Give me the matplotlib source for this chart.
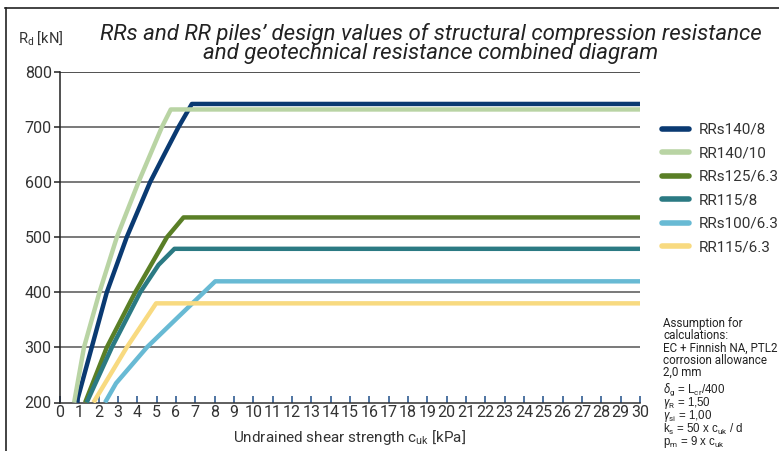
import matplotlib.pyplot as plt
from matplotlib.lines import Line2D

plt.rcParams['font.family'] = ['Roboto', 'DejaVu Sans']
plt.rcParams['mathtext.fontset'] = 'custom'
plt.rcParams['mathtext.rm'] = 'Roboto'
plt.rcParams['mathtext.it'] = 'Roboto:italic'

# data: c_uk [kPa] -> R_d [kN]
names = ['RRs140/8', 'RR140/10', 'RRs125/6.3', 'RR115/8', 'RRs100/6.3', 'RR115/6.3']
colors = ['#0a3a72', '#b9d4a4', '#5a7f26', '#2b7a83', '#68bad4', '#f8da80']

x_rrs140_8 = [0.86, 1.64, 2.42, 3.45, 4.66, 5.39, 6.13, 6.82, 30]
y_rrs140_8 = [200, 300, 400, 500, 600, 650, 700, 742, 742]
x_rr140_10 = [0.73, 1.24, 2.04, 2.94, 4.06, 5.27, 5.73, 30]
y_rr140_10 = [200, 300, 400, 500, 600, 700, 732, 732]
x_rrs125 = [1.3, 2.42, 3.89, 5.53, 6.39, 30]
y_rrs125 = [200, 300, 400, 500, 536, 536]
x_rr115_8 = [1.38, 2.68, 4.15, 5.1, 5.92, 30]
y_rr115_8 = [200, 300, 400, 450, 479, 479]
x_rrs100 = [2.33, 2.9, 4.49, 5.96, 8.03, 30]
y_rrs100 = [200, 235, 300, 350, 420, 420]
x_rr115_63 = [1.73, 3.45, 4.97, 30]
y_rr115_63 = [200, 300, 380, 380]

xs = [x_rrs140_8, x_rr140_10, x_rrs125, x_rr115_8, x_rrs100, x_rr115_63]
ys = [y_rrs140_8, y_rr140_10, y_rrs125, y_rr115_8, y_rrs100, y_rr115_63]

fig = plt.figure(figsize=(7.79, 4.51), dpi=100)
ax = fig.add_axes([60 / 779, 1 - 402.5 / 451, 580 / 779, 330.5 / 451])

# grid
for g in [300, 400, 500, 600, 700]:
    ax.axhline(g, color='#555555', lw=1.1, zorder=1)
ax.axhline(800, color='#222222', lw=1.1, zorder=1)

handles = []
for x, y, c, n in zip(xs, ys, colors, names):
    h, = ax.plot(x, y, color=c, lw=3.2, solid_capstyle='butt', solid_joinstyle='round',
                 label=n, zorder=3)
    handles.append(h)

ax.set_xlim(0, 30)
ax.set_ylim(200, 800)
ax.set_xticks(range(0, 31))
ax.set_yticks(range(200, 801, 100))
for s in ['top', 'right']:
    ax.spines[s].set_visible(False)
ax.spines['left'].set_color('#222222')
ax.spines['bottom'].set_color('#333333')
ax.spines['left'].set_linewidth(1.1)
ax.spines['bottom'].set_linewidth(1.1)
ax.tick_params(axis='x', direction='in', length=5, width=1.1, color='#1f4e89',
               labelsize=11.5, labelcolor='#333333', pad=2)
ax.tick_params(axis='y', direction='out', length=4, width=1.1, color='#222222',
               labelsize=11.5, labelcolor='#333333', pad=2)

fig.text(431 / 779, 1 - 23 / 451, 'RRs and RR piles\u2019 design values of structural compression resistance\nand geotechnical resistance combined diagram',
         ha='center', va='top', fontsize=16, style='italic', weight='normal',
         color='#222222', linespacing=0.9)
fig.text(18 / 779, 1 - 47 / 451, r'R$_\mathrm{d}$ [kN]', fontsize=10.5, color='#333333', va='bottom')
fig.text(350 / 779, 1 - 447 / 451, r'Undrained shear strength c$_\mathrm{uk}$ [kPa]',
         fontsize=11, color='#333333', ha='center', va='bottom')

leg = fig.legend(handles=handles, loc='upper left', bbox_to_anchor=(662 / 779, 1 - 123 / 451),
                 frameon=False, fontsize=11, handlelength=1.75, handletextpad=0.65,
                 labelspacing=0.62, borderpad=0, borderaxespad=0)
for t in leg.get_texts():
    t.set_color('#333333')
for l in leg.get_lines():
    l.set_linewidth(4)
    l.set_solid_capstyle('round')

fig.text(663 / 779, 1 - 317 / 451,
         'Assumption for\ncalculations:\nEC + Finnish NA, PTL2\ncorrosion allowance\n2,0 mm',
         fontsize=8.4, color='#222222', va='top', linespacing=0.92)
fig.text(663 / 779, 1 - 381 / 451,
         r'$\delta_\mathrm{g}$ = L$_\mathrm{cr}$/400' + '\n' +
         r'$\gamma_\mathrm{R}$ = 1,50' + '\n' +
         r'$\gamma_\mathrm{si}$ = 1,00' + '\n' +
         r'k$_\mathrm{s}$ = 50 x c$_\mathrm{uk}$ / d' + '\n' +
         r'p$_\mathrm{m}$ = 9 x c$_\mathrm{uk}$',
         fontsize=8.3, color='#222222', va='top', linespacing=0.78,
         family=['Liberation Sans', 'DejaVu Sans'])

# frame lines (top and left)
fig.add_artist(Line2D([5 / 779, 1], [1 - 8 / 451, 1 - 8 / 451], color='#222222', lw=1.2))
fig.add_artist(Line2D([6 / 779, 6 / 779], [0, 1 - 8 / 451], color='#222222', lw=1.2))

fig.savefig('out.png', dpi=100)
